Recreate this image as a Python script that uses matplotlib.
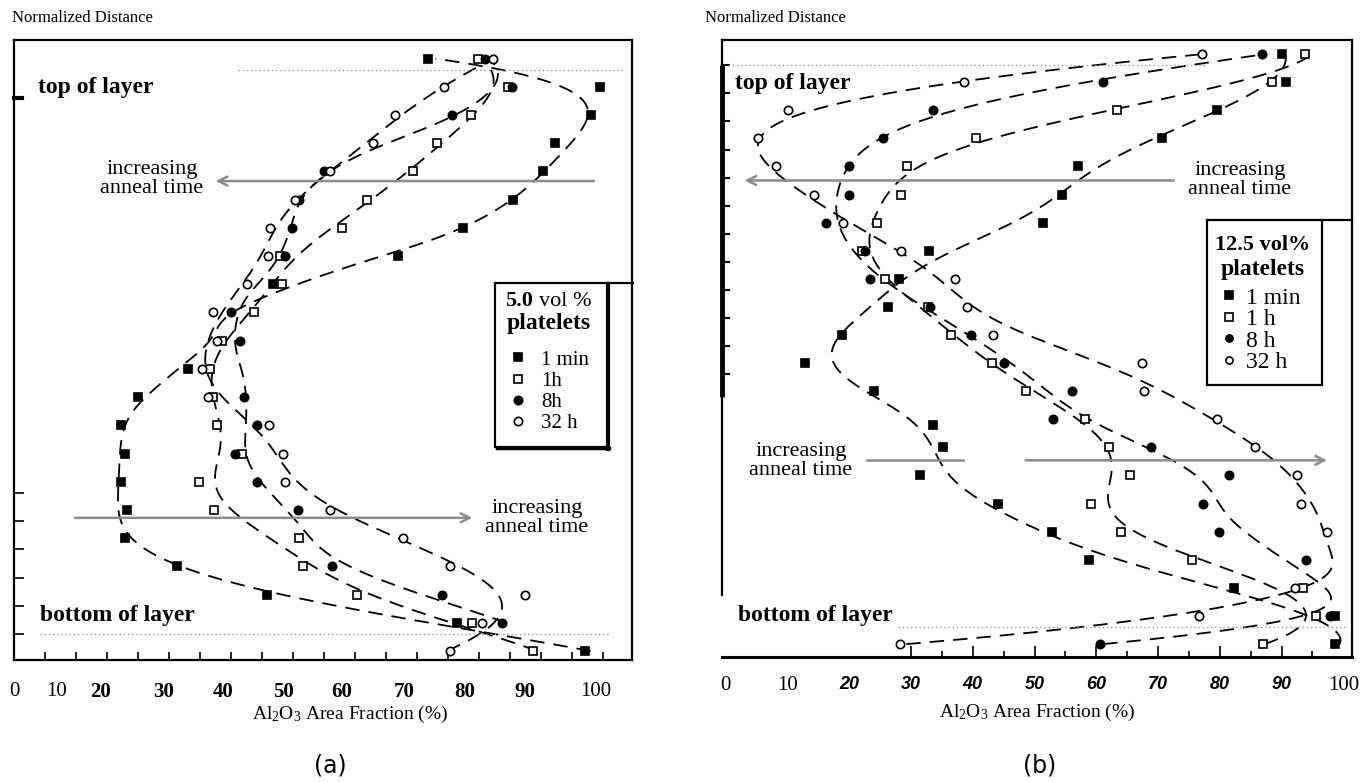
import numpy as np
import matplotlib
matplotlib.use("Agg")
import matplotlib.pyplot as plt
from matplotlib.patches import Rectangle
from matplotlib.lines import Line2D

plt.rcParams['font.family'] = ['Liberation Serif', 'DejaVu Serif']
plt.rcParams['mathtext.fontset'] = 'custom'
plt.rcParams['mathtext.rm'] = 'Liberation Serif'
plt.rcParams['mathtext.it'] = 'Liberation Serif:italic'

# ---- data: x = Al2O3 area fraction (%), y = normalized distance
# panel (a): 5.0 vol% platelets
a_1min_x = [71.8, 99.5, 98.1, 92.3, 90.3, 85.5, 77.4, 66.9, 46.8, 33.1, 25.0,
            22.3, 22.9, 22.3, 23.2, 22.9, 31.3, 45.8, 76.5, 97.1]
a_1min_y = [1.02, 0.97, 0.92, 0.87, 0.82, 0.77, 0.72, 0.67, 0.62, 0.47, 0.42,
            0.37, 0.32, 0.27, 0.22, 0.17, 0.12, 0.07, 0.02, -0.03]
a_1h_x = [79.8, 84.7, 78.7, 73.2, 69.4, 61.9, 57.9, 47.9, 48.2, 43.7, 38.5,
          36.6, 37.1, 37.8, 41.8, 34.8, 37.3, 51.0, 51.6, 60.3, 78.9, 88.7]
a_1h_y = [1.02, 0.97, 0.92, 0.87, 0.82, 0.77, 0.72, 0.67, 0.62, 0.57, 0.52,
          0.47, 0.42, 0.37, 0.32, 0.27, 0.22, 0.17, 0.12, 0.07, 0.02, -0.03]
a_8h_x = [81.0, 85.3, 75.6, 55.0, 51.0, 49.8, 48.7, 40.0, 41.5, 42.1, 44.2,
          40.6, 44.2, 50.8, 56.3, 74.0, 83.7]
a_8h_y = [1.02, 0.97, 0.92, 0.82, 0.77, 0.72, 0.67, 0.57, 0.52, 0.42, 0.37,
          0.32, 0.27, 0.22, 0.12, 0.07, 0.02]
a_32h_x = [82.3, 74.4, 66.5, 62.9, 56.0, 50.3, 46.3, 46.0, 42.6, 37.1, 37.7,
           35.3, 36.3, 46.1, 48.4, 48.7, 56.0, 67.7, 75.3, 87.4, 80.5, 75.3]
a_32h_y = [1.02, 0.97, 0.92, 0.87, 0.82, 0.77, 0.72, 0.67, 0.62, 0.57, 0.52,
           0.47, 0.42, 0.37, 0.32, 0.27, 0.22, 0.17, 0.12, 0.07, 0.02, -0.03]

# panel (b): 12.5 vol% platelets
b_1min_x = [90.0, 90.7, 79.5, 70.6, 57.0, 54.4, 51.4, 32.9, 28.1, 26.3, 18.8,
            12.8, 24.0, 33.6, 35.2, 31.5, 44.1, 52.8, 58.8, 82.3, 98.6, 98.6]
b_1min_y = [1.02, 0.97, 0.92, 0.87, 0.82, 0.77, 0.72, 0.67, 0.62, 0.57, 0.52,
            0.47, 0.42, 0.36, 0.32, 0.27, 0.22, 0.17, 0.12, 0.07, 0.02, -0.03]
b_1h_x = [93.8, 88.4, 63.3, 40.5, 29.4, 28.4, 24.5, 22.1, 25.8, 32.8, 36.5,
          43.1, 48.6, 58.2, 62.0, 65.4, 59.1, 64.0, 75.5, 93.4, 95.5, 87.0]
b_1h_y = [1.02, 0.97, 0.92, 0.87, 0.82, 0.77, 0.72, 0.67, 0.62, 0.57, 0.52,
          0.47, 0.42, 0.37, 0.32, 0.27, 0.22, 0.17, 0.12, 0.07, 0.02, -0.03]
b_8h_x = [86.8, 61.1, 33.6, 25.5, 20.0, 20.0, 16.2, 22.6, 23.4, 33.1, 39.7,
          45.0, 56.1, 53.0, 68.8, 81.5, 77.2, 79.8, 93.9, 97.8, 60.6]
b_8h_y = [1.02, 0.97, 0.92, 0.87, 0.82, 0.77, 0.72, 0.67, 0.62, 0.57, 0.52,
          0.47, 0.42, 0.37, 0.32, 0.27, 0.22, 0.17, 0.12, 0.02, -0.03]
b_32h_x = [77.1, 38.6, 10.1, 5.2, 8.2, 14.3, 19.0, 28.4, 37.1, 39.1, 43.3,
           67.4, 67.7, 79.5, 85.7, 92.5, 93.1, 97.3, 92.1, 76.6, 28.2]
b_32h_y = [1.02, 0.97, 0.92, 0.87, 0.82, 0.77, 0.72, 0.67, 0.62, 0.57, 0.52,
           0.47, 0.42, 0.37, 0.32, 0.27, 0.22, 0.17, 0.07, 0.02, -0.03]

a_tick_labels = ['0', '10', '20', '30', '40', '50', '60', '70', '80', '90', '100']
b_tick_labels = ['0', '10', '20', '30', '40', '50', '60', '70', '80', '90', '100']
series_names = ['1 min', '1h', '8h', '32 h']
series_names_b = ['1 min', '1 h', '8 h', '32 h']

W, H = 1365, 782


def fpos(x, y):
    """pixel position (from top left) -> figure fraction"""
    return x / W, 1 - y / H


def smooth_curve(xs, ys, h=0.07, n=300):
    """local quadratic fit of x against y, like a hand drawn trend line"""
    xs = np.asarray(xs, float)
    ys = np.asarray(ys, float)
    grid = np.linspace(ys.min(), ys.max(), n)
    out = []
    for y0 in grid:
        w = np.exp(-0.5 * ((ys - y0) / h) ** 2)
        c = np.polyfit(ys - y0, xs, 2, w=np.sqrt(w))
        out.append(c[-1])
    return np.array(out), grid


def draw_series(ax, xs, ys, marker, filled, size):
    cx, cy = smooth_curve(xs, ys)
    ax.plot(cx, cy, color='k', lw=1.3, dashes=(8, 5), zorder=2)
    face = 'k' if filled else 'white'
    pts, = ax.plot(xs, ys, ls='none', marker=marker, ms=size, mfc=face,
                   mec='k', mew=1.2, zorder=3)
    return pts


fig = plt.figure(figsize=(13.65, 7.82), dpi=100)

# ---------------- panel (a) ----------------
axL = fig.add_axes([14 / W, 1 - 660 / H, 618 / W, 620 / H])
axL.set_xlim(5.0, 104.7)
axL.set_ylim(-0.046, 1.053)
for s in axL.spines.values():
    s.set_linewidth(1.6)

hL = [draw_series(axL, a_1min_x, a_1min_y, 's', True, 5.5),
      draw_series(axL, a_1h_x, a_1h_y, 's', False, 6),
      draw_series(axL, a_8h_x, a_8h_y, 'o', True, 6),
      draw_series(axL, a_32h_x, a_32h_y, 'o', False, 6)]

a_label_pos = [5.0, 11.9, 18.9, 29.2, 38.7, 48.4, 57.9, 67.9, 77.7, 87.4, 98.9]
axL.set_xticks(a_label_pos, a_tick_labels)
axL.set_xticks(np.arange(10, 101, 5), minor=True)
axL.tick_params(axis='x', which='major', length=0, pad=16, labelsize=15)
axL.tick_params(axis='x', which='minor', direction='in', length=6, width=1.2)
for lbl in axL.get_xticklabels():
    if lbl.get_text() not in ('0', '10', '100'):
        lbl.set_fontweight('bold')
axL.set_yticks(np.arange(0, 0.26, 0.05))
axL.tick_params(axis='y', direction='in', length=7, width=1.2, labelleft=False)
axL.plot([5.0, 6.3], [0.95, 0.95], color='k', lw=3, clip_on=False)

axL.plot([41.1, 103.5], [1.0, 1.0], color='0.6', lw=1, ls=(0, (1, 2)))
axL.plot([9.2, 101.1], [0.0, 0.0], color='0.6', lw=1, ls=(0, (1, 2)))
axL.annotate('', xy=(37.1, 0.803), xytext=(99.0, 0.803),
             arrowprops=dict(arrowstyle='->', color='0.55', lw=1.8, mutation_scale=16))
axL.annotate('', xy=(79.4, 0.206), xytext=(14.4, 0.206),
             arrowprops=dict(arrowstyle='->', color='0.55', lw=1.8, mutation_scale=16))

fig.text(*fpos(12, 18), 'Normalized Distance', fontsize=12, va='center')
fig.text(*fpos(38, 87), 'top of layer', fontsize=17, fontweight='bold', va='center')
fig.text(*fpos(40, 615), 'bottom of layer', fontsize=17, fontweight='bold', va='center')
fig.text(*fpos(152, 179), 'increasing\nanneal time', fontsize=16, ha='center',
         va='center', linespacing=1.05)
fig.text(*fpos(537, 518), 'increasing\nanneal time', fontsize=16, ha='center',
         va='center', linespacing=1.05)
fig.text(*fpos(350, 714), r'Al$_2$O$_3$ Area Fraction (%)', fontsize=14,
         ha='center', va='center')
fig.text(*fpos(330, 766), '(a)', fontsize=17, ha='center', va='center',
         family='DejaVu Sans')

# legend box (a)
fig.add_artist(Rectangle(fpos(495, 447), 113 / W, 164 / H, transform=fig.transFigure,
                         fill=False, lw=1.6, ec='k'))
fig.add_artist(Line2D([608 / W, 608 / W], [1 - 285 / H, 1 - 449 / H],
                      transform=fig.transFigure, color='k', lw=3))
fig.add_artist(Line2D([497 / W, 609 / W], [1 - 448 / H, 1 - 448 / H],
                      transform=fig.transFigure, color='k', lw=2.5))
fig.add_artist(Line2D([608 / W, 633 / W], [1 - 283 / H, 1 - 283 / H],
                      transform=fig.transFigure, color='k', lw=1.6))
fig.text(*fpos(505, 301), '5.0', fontsize=16, fontweight='bold', va='center')
fig.text(*fpos(539, 301), 'vol %', fontsize=16, va='center')
fig.text(*fpos(549, 324), 'platelets', fontsize=17, fontweight='bold',
         ha='center', va='center')
fig.legend(hL, series_names, loc='upper left', bbox_to_anchor=fpos(510, 350),
           frameon=False, fontsize=15, handlelength=0.8, handletextpad=0.7,
           labelspacing=0.08, borderpad=0, borderaxespad=0)

# ---------------- panel (b) ----------------
axR = fig.add_axes([722 / W, 1 - 657 / H, 630 / W, 617 / H])
axR.set_xlim(-0.6, 101.4)
axR.set_ylim(-0.053, 1.045)
for s in axR.spines.values():
    s.set_linewidth(1.6)
axR.spines['bottom'].set_linewidth(2.2)
axR.spines['left'].set_bounds(0.057, 1.045)

hR = [draw_series(axR, b_1min_x, b_1min_y, 's', True, 6),
      draw_series(axR, b_1h_x, b_1h_y, 's', False, 6),
      draw_series(axR, b_8h_x, b_8h_y, 'o', True, 6),
      draw_series(axR, b_32h_x, b_32h_y, 'o', False, 6)]

axR.set_xticks(np.arange(0, 101, 10), b_tick_labels)
axR.set_xticks(np.arange(35, 100, 10), minor=True)
axR.tick_params(axis='x', which='major', direction='in', length=8, width=1.2,
                pad=14, labelsize=15)
axR.tick_params(axis='x', which='minor', direction='in', length=4, width=1.2)
for t in axR.xaxis.get_major_ticks():
    if t.label1.get_text() in ('0', '10', '20', '100'):
        t.tick1line.set_visible(False)
for lbl in axR.get_xticklabels():
    if lbl.get_text() not in ('0', '10', '100'):
        lbl.set_fontfamily('Liberation Sans')
        lbl.set_fontweight('bold')
        lbl.set_fontstyle('italic')
        lbl.set_fontsize(13)
axR.set_yticks(np.arange(0.45, 1.001, 0.05))
axR.tick_params(axis='y', direction='in', length=6, width=1.5, labelleft=False)
axR.plot([-0.6, -0.6], [0.41, 1.0], color='k', lw=3.5, clip_on=False,
         solid_capstyle='butt')

axR.plot([0.3, 78.0], [1.0, 1.0], color='0.6', lw=1, ls=(0, (1, 2)))
axR.plot([27.9, 100.2], [0.0, 0.0], color='0.6', lw=1, ls=(0, (1, 2)))
axR.annotate('', xy=(2.6, 0.795), xytext=(73.0, 0.795),
             arrowprops=dict(arrowstyle='->', color='0.55', lw=1.8, mutation_scale=16))
axR.plot([22.9, 38.4], [0.297, 0.297], color='0.55', lw=1.8)
axR.annotate('', xy=(97.8, 0.297), xytext=(48.1, 0.297),
             arrowprops=dict(arrowstyle='->', color='0.55', lw=1.8, mutation_scale=16))

fig.text(*fpos(705, 18), 'Normalized Distance', fontsize=12, va='center')
fig.text(*fpos(735, 83), 'top of layer', fontsize=17, fontweight='bold', va='center')
fig.text(*fpos(738, 615), 'bottom of layer', fontsize=17, fontweight='bold', va='center')
fig.text(*fpos(1240, 180), 'increasing\nanneal time', fontsize=16, ha='center',
         va='center', linespacing=1.05)
fig.text(*fpos(801, 461), 'increasing\nanneal time', fontsize=16, ha='center',
         va='center', linespacing=1.05)
fig.text(*fpos(1037, 712), r'Al$_2$O$_3$ Area Fraction (%)', fontsize=14,
         ha='center', va='center')
fig.text(*fpos(1040, 766), '(b)', fontsize=17, ha='center', va='center',
         family='DejaVu Sans')

# legend box (b)
fig.add_artist(Rectangle(fpos(1207, 385), 115 / W, 165 / H, transform=fig.transFigure,
                         fill=False, lw=1.6, ec='k'))
fig.add_artist(Line2D([1322 / W, 1352 / W], [1 - 220 / H, 1 - 220 / H],
                      transform=fig.transFigure, color='k', lw=1.6))
fig.text(*fpos(1263, 245), '12.5 vol%', fontsize=16, fontweight='bold',
         ha='center', va='center')
fig.text(*fpos(1263, 269), 'platelets', fontsize=17, fontweight='bold',
         ha='center', va='center')
fig.legend(hR, series_names_b, loc='upper left', bbox_to_anchor=fpos(1222, 287),
           frameon=False, fontsize=17, handlelength=0.6, handletextpad=0.4,
           labelspacing=0.0, borderpad=0, borderaxespad=0, markerscale=0.85)

fig.savefig('out.png', dpi=100)
